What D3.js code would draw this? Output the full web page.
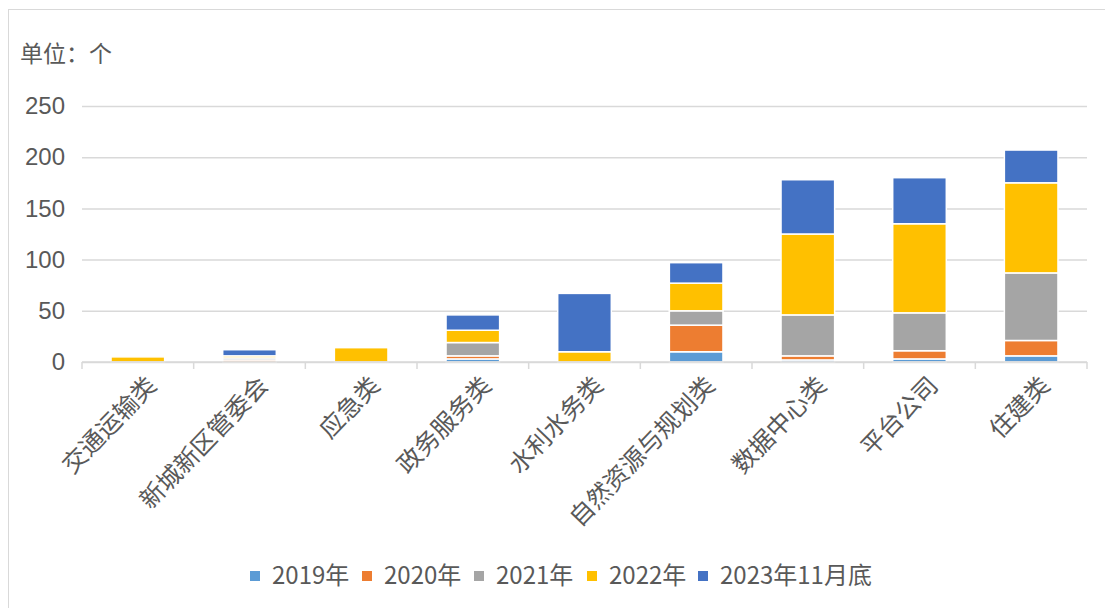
<!DOCTYPE html>
<html>
  <head>
    <meta charset="utf-8">
    <title>分类堆积柱形图</title>
    <style>
      body { margin: 0; background: #fff; }
      svg { font-family: "Noto Sans CJK SC", "Microsoft YaHei", sans-serif; }
      .tick text { fill: #595959; font-size: 24px; }
      .legend text { fill: #595959; font-size: 24px; }
    </style>
  </head>
  <body>
    <svg width="1105" height="608"></svg>

    <script src="https://d3js.org/d3.v7.min.js"></script>
    <script>
      // Categories and values per year (units: 个)
      const categories = ['交通运输类', '新城新区管委会', '应急类', '政务服务类', '水利水务类',
        '自然资源与规划类', '数据中心类', '平台公司', '住建类'];
      const years = ['2019年', '2020年', '2021年', '2022年', '2023年11月底'];
      const v2019 = [0, 0, 0, 3, 0, 10, 2, 3, 6];
      const v2020 = [0, 2, 0, 3, 0, 26, 4, 8, 15];
      const v2021 = [0, 2, 0, 13, 0, 14, 40, 37, 66];
      const v2022 = [5, 2, 14, 12, 10, 27, 79, 87, 88];
      const v2023 = [0, 6, 0, 15, 57, 20, 53, 45, 32];
      const yTicks = [0, 50, 100, 150, 200, 250];
      const colors = ['#5B9BD5', '#ED7D31', '#A5A5A5', '#FFC000', '#4472C4'];

      const width = 1105;
      const height = 608;
      const margin = { top: 106, right: 18, bottom: 246, left: 82 };

      const svg = d3.select('svg');

      // outer frame
      svg.append('rect')
        .attr('x', 8.5).attr('y', 9.5)
        .attr('width', width + 20).attr('height', height + 20)
        .attr('fill', 'none').attr('stroke', '#d9d9d9');

      // title
      svg.append('text')
        .attr('x', 20).attr('y', 62)
        .attr('fill', '#595959').attr('font-size', 23)
        .text('单位：个');

      const rows = categories.map((c, i) => ({
        name: c,
        [years[0]]: v2019[i], [years[1]]: v2020[i], [years[2]]: v2021[i],
        [years[3]]: v2022[i], [years[4]]: v2023[i]
      }));

      const x = d3.scaleBand()
        .domain(categories)
        .range([margin.left, width - margin.right])
        .paddingInner(0.52)
        .paddingOuter(0.26);

      const y = d3.scaleLinear()
        .domain([0, 250])
        .range([height - margin.bottom, margin.top]);

      const color = d3.scaleOrdinal().domain(years).range(colors);

      // y axis with gridlines
      const yAxis = svg.append('g')
        .attr('transform', `translate(${margin.left},0)`)
        .call(d3.axisLeft(y).tickValues(yTicks)
          .tickSize(-(width - margin.right - margin.left)).tickPadding(17));
      yAxis.select('.domain').remove();
      yAxis.selectAll('.tick line').attr('stroke', '#d9d9d9').attr('stroke-width', 1.5);

      // stacked bars
      const stack = d3.stack().keys(years)(rows);
      svg.append('g')
        .selectAll('g')
        .data(stack)
        .join('g')
        .attr('fill', d => color(d.key))
        .selectAll('rect')
        .data(d => d.filter(p => p[1] - p[0] > 0))
        .join('rect')
        .attr('x', d => x(d.data.name))
        .attr('width', x.bandwidth())
        .attr('y', d => y(d[1]))
        .attr('height', d => y(d[0]) - y(d[1]))
        .attr('stroke', '#fff')
        .attr('stroke-width', 1.5);

      // x axis: line and category boundary ticks
      const bounds = d3.range(categories.length + 1).map(i => margin.left + i * (width - margin.right - margin.left) / categories.length);
      const xg = svg.append('g');
      xg.append('line')
        .attr('x1', margin.left).attr('x2', width - margin.right)
        .attr('y1', y(0)).attr('y2', y(0))
        .attr('stroke', '#d9d9d9').attr('stroke-width', 1.5);
      xg.selectAll('.bt')
        .data(bounds)
        .join('line')
        .attr('class', 'bt')
        .attr('x1', d => d).attr('x2', d => d)
        .attr('y1', y(0)).attr('y2', y(0) + 7)
        .attr('stroke', '#d9d9d9').attr('stroke-width', 1.5);

      // rotated category labels
      xg.selectAll('.lab')
        .data(categories)
        .join('text')
        .attr('class', 'lab')
        .attr('transform', d => `translate(${x(d) + x.bandwidth() / 2 + 20},${y(0) + 25}) rotate(-46)`)
        .attr('text-anchor', 'end')
        .attr('fill', '#595959')
        .attr('font-size', 24.5)
        .text(d => d);

      // legend
      const legendX = [250, 362, 474, 587, 698];
      const legend = svg.append('g').attr('class', 'legend');
      const li = legend.selectAll('g')
        .data(years)
        .join('g')
        .attr('transform', (d, i) => `translate(${legendX[i]},576)`);
      li.append('rect')
        .attr('x', 0).attr('y', -5)
        .attr('width', 10).attr('height', 10)
        .attr('fill', d => color(d));
      li.append('text')
        .attr('x', 22).attr('y', 8)
        .text(d => d);
    </script>
  </body>
</html>
